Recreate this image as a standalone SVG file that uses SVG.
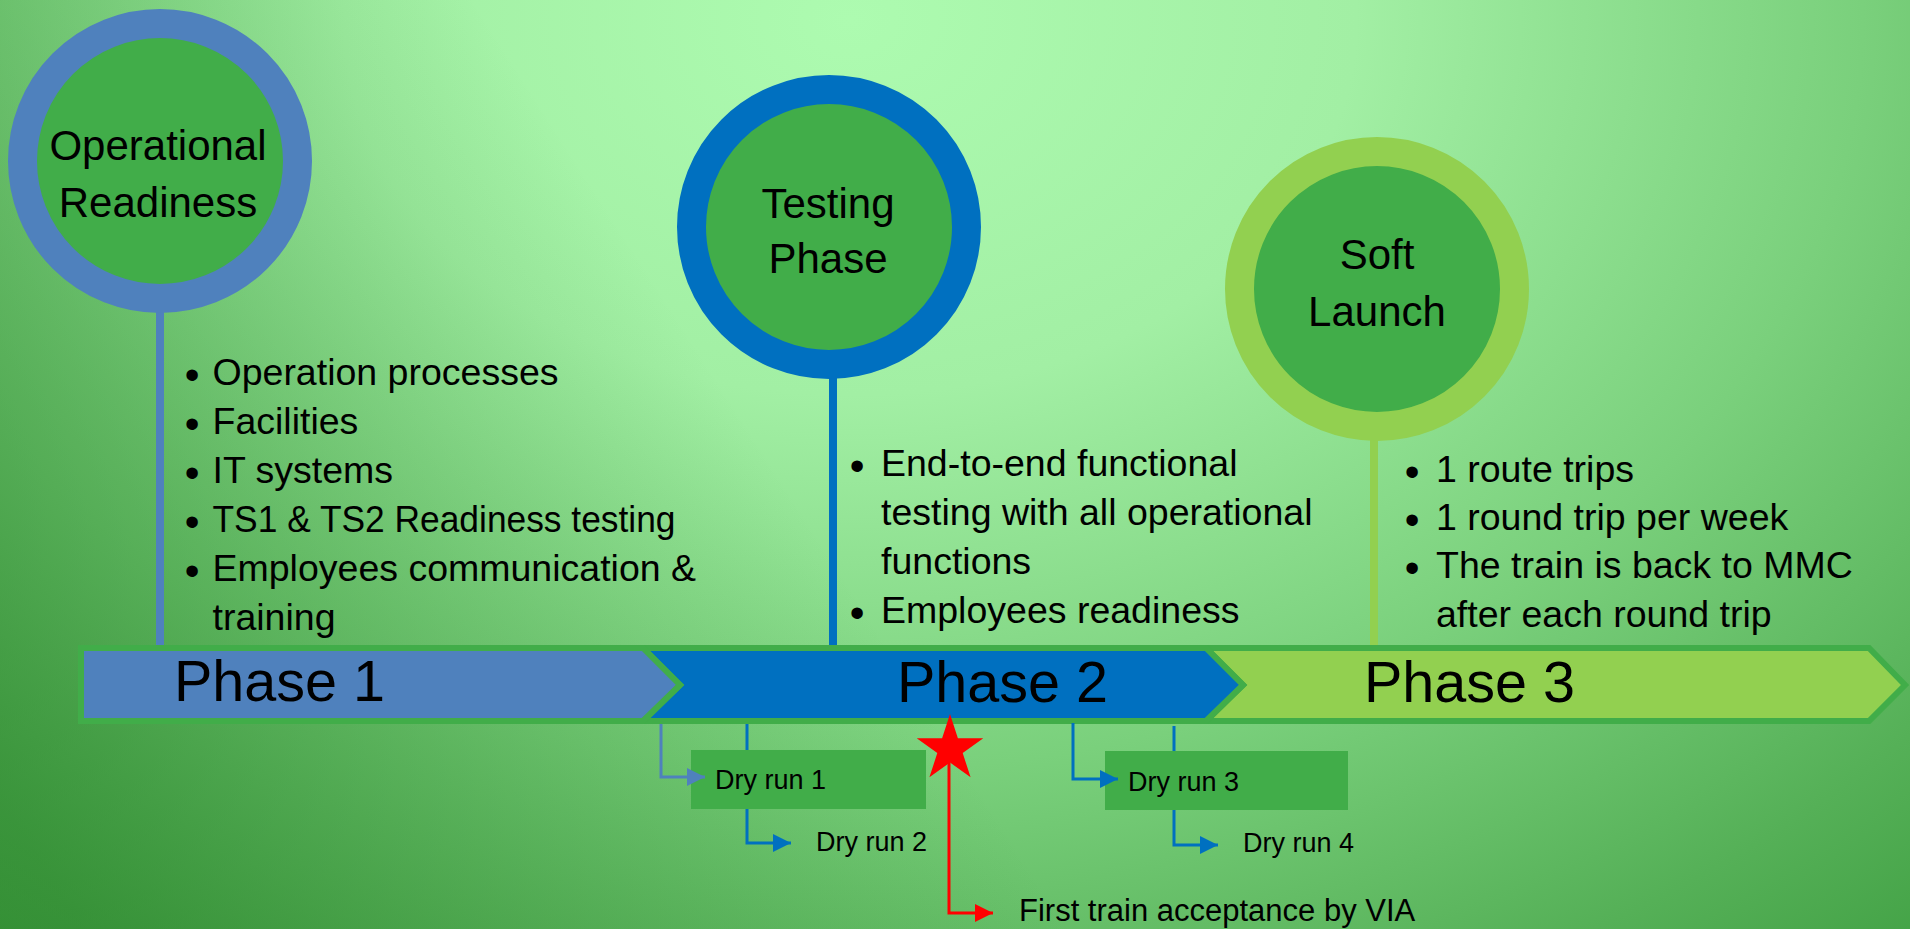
<svg xmlns="http://www.w3.org/2000/svg" width="1910" height="929" viewBox="0 0 1910 929">
<style>
text{font-family:"Liberation Sans",Arial,sans-serif;fill:#000}
.ct{font-size:42px;text-anchor:middle}
.bl{font-size:37.5px}
.bu{font-size:42px;text-anchor:middle}
.ph{font-size:57.5px}
.dr{font-size:27px}
.ft{font-size:31px}
.bar{stroke:#41AD49;stroke-width:6;stroke-linejoin:miter}
.box{fill:#41AD49}
.cn{fill:none;stroke-width:3}
</style>
<defs>
<radialGradient id="bg" gradientUnits="userSpaceOnUse" cx="850" cy="20" r="1250" gradientTransform="translate(850,20) scale(1.35,1) translate(-850,-20)">
<stop offset="0" stop-color="#ADFBB0"/>
<stop offset="0.3" stop-color="#A2EFA4"/>
<stop offset="0.6" stop-color="#7AD07C"/>
<stop offset="0.85" stop-color="#55B057"/>
<stop offset="1" stop-color="#40A043"/>
</radialGradient>
<linearGradient id="dk" gradientUnits="userSpaceOnUse" x1="0" y1="800" x2="700" y2="350">
<stop offset="0" stop-color="#1F7A1F" stop-opacity="0.55"/>
<stop offset="1" stop-color="#1F7A1F" stop-opacity="0"/>
</linearGradient>
<marker id="aL" markerUnits="userSpaceOnUse" markerWidth="18" markerHeight="18" refX="18" refY="9" orient="auto"><path d="M0,0 L18,9 L0,18 Z" fill="#4F81BD"/></marker>
<marker id="aB" markerUnits="userSpaceOnUse" markerWidth="18" markerHeight="18" refX="18" refY="9" orient="auto"><path d="M0,0 L18,9 L0,18 Z" fill="#0070C0"/></marker>
<marker id="aR" markerUnits="userSpaceOnUse" markerWidth="18" markerHeight="18" refX="18" refY="9" orient="auto"><path d="M0,0 L18,9 L0,18 Z" fill="#FF0000"/></marker>
</defs>
<rect x="0" y="0" width="1910" height="929" fill="url(#bg)"/>
<rect x="0" y="0" width="1910" height="929" fill="url(#dk)"/>

<g id="stems">
<line x1="160" y1="300" x2="160" y2="651" stroke="#4F81BD" stroke-width="8"/>
<line x1="833" y1="370" x2="833" y2="651" stroke="#0070C0" stroke-width="8"/>
<line x1="1374" y1="430" x2="1374" y2="651" stroke="#92D050" stroke-width="8"/>
</g>

<g id="node-operational-readiness">
<circle cx="160" cy="161" r="137.5" fill="#41AD49" stroke="#4F81BD" stroke-width="29"/>
<text class="ct" x="158" y="160">Operational</text>
<text class="ct" x="158" y="217">Readiness</text>
</g>
<g id="node-testing-phase">
<circle cx="829" cy="227" r="137.5" fill="#41AD49" stroke="#0070C0" stroke-width="29"/>
<text class="ct" x="828" y="218">Testing</text>
<text class="ct" x="828" y="273">Phase</text>
</g>
<g id="node-soft-launch">
<circle cx="1377" cy="289" r="137.5" fill="#41AD49" stroke="#92D050" stroke-width="29"/>
<text class="ct" x="1377" y="269">Soft</text>
<text class="ct" x="1377" y="326">Launch</text>
</g>

<g id="bullets-phase1">
<text class="bu" x="192" y="389">•</text><text class="bl" x="212.5" y="385">Operation processes</text>
<text class="bu" x="192" y="438">•</text><text class="bl" x="212.5" y="434">Facilities</text>
<text class="bu" x="192" y="487">•</text><text class="bl" x="212.5" y="483">IT systems</text>
<text class="bu" x="192" y="536">•</text><text class="bl" x="212.5" y="532" textLength="463" lengthAdjust="spacingAndGlyphs">TS1 &amp; TS2 Readiness testing</text>
<text class="bu" x="192" y="585">•</text><text class="bl" x="212.5" y="581">Employees communication &amp;</text>
<text class="bl" x="212.5" y="630">training</text>
</g>
<g id="bullets-phase2">
<text class="bu" x="857" y="480">•</text><text class="bl" x="881" y="476">End-to-end functional</text>
<text class="bl" x="881" y="525">testing with all operational</text>
<text class="bl" x="881" y="574">functions</text>
<text class="bu" x="857" y="627">•</text><text class="bl" x="881" y="623">Employees readiness</text>
</g>
<g id="bullets-phase3">
<text class="bu" x="1412" y="486">•</text><text class="bl" x="1436" y="482">1 route trips</text>
<text class="bu" x="1412" y="534">•</text><text class="bl" x="1436" y="530">1 round trip per week</text>
<text class="bu" x="1412" y="582">•</text><text class="bl" x="1436" y="578">The train is back to MMC</text>
<text class="bl" x="1436" y="627">after each round trip</text>
</g>

<g id="node-phase3">
<path class="bar" d="M1206,648 L1243,685 L1206,721 H1869 L1905,685 L1869,648 Z" fill="#92D050"/>
<text class="ph" x="1364" y="702">Phase 3</text>
</g>
<g id="node-phase2">
<path class="bar" d="M643,648 L680,685 L643,721 H1206 L1243,685 L1206,648 Z" fill="#0070C0"/>
<text class="ph" x="897" y="702">Phase 2</text>
</g>
<g id="node-phase1">
<path class="bar" d="M81,648 H643 L680,685 L643,721 H81 Z" fill="#4F81BD"/>
<text class="ph" x="174" y="701">Phase 1</text>
</g>

<g id="node-dry-run-1">
<rect class="box" x="691" y="750" width="235" height="59"/>
<text class="dr" x="715" y="789">Dry run 1</text>
</g>
<g id="node-dry-run-3">
<rect class="box" x="1105" y="751" width="243" height="59"/>
<text class="dr" x="1128" y="791">Dry run 3</text>
</g>
<g id="node-dry-run-2">
<text class="dr" x="816" y="851">Dry run 2</text>
</g>
<g id="node-dry-run-4">
<text class="dr" x="1243" y="852">Dry run 4</text>
</g>
<g id="node-first-train">
<polygon points="950,714 957.9,738.2 983.3,738.2 962.7,753.1 970.6,777.3 950,762.4 929.4,777.3 937.3,753.1 916.7,738.2 942.1,738.2" fill="#FF0000"/>
<text class="ft" x="1019" y="921">First train acceptance by VIA</text>
</g>

<g id="connectors">
<path class="cn" d="M661,724 V777 H705" stroke="#4F81BD" marker-end="url(#aL)"/>
<path class="cn" d="M747,724 V750 M747,809 V843 H791" stroke="#0070C0" marker-end="url(#aB)"/>
<path class="cn" d="M1073,723 V779 H1118" stroke="#0070C0" marker-end="url(#aB)"/>
<path class="cn" d="M1174,726 V751 M1174,810 V845 H1218" stroke="#0070C0" marker-end="url(#aB)"/>
<path class="cn" d="M949,762 V913 H993" stroke="#FF0000" marker-end="url(#aR)"/>
</g>
</svg>
